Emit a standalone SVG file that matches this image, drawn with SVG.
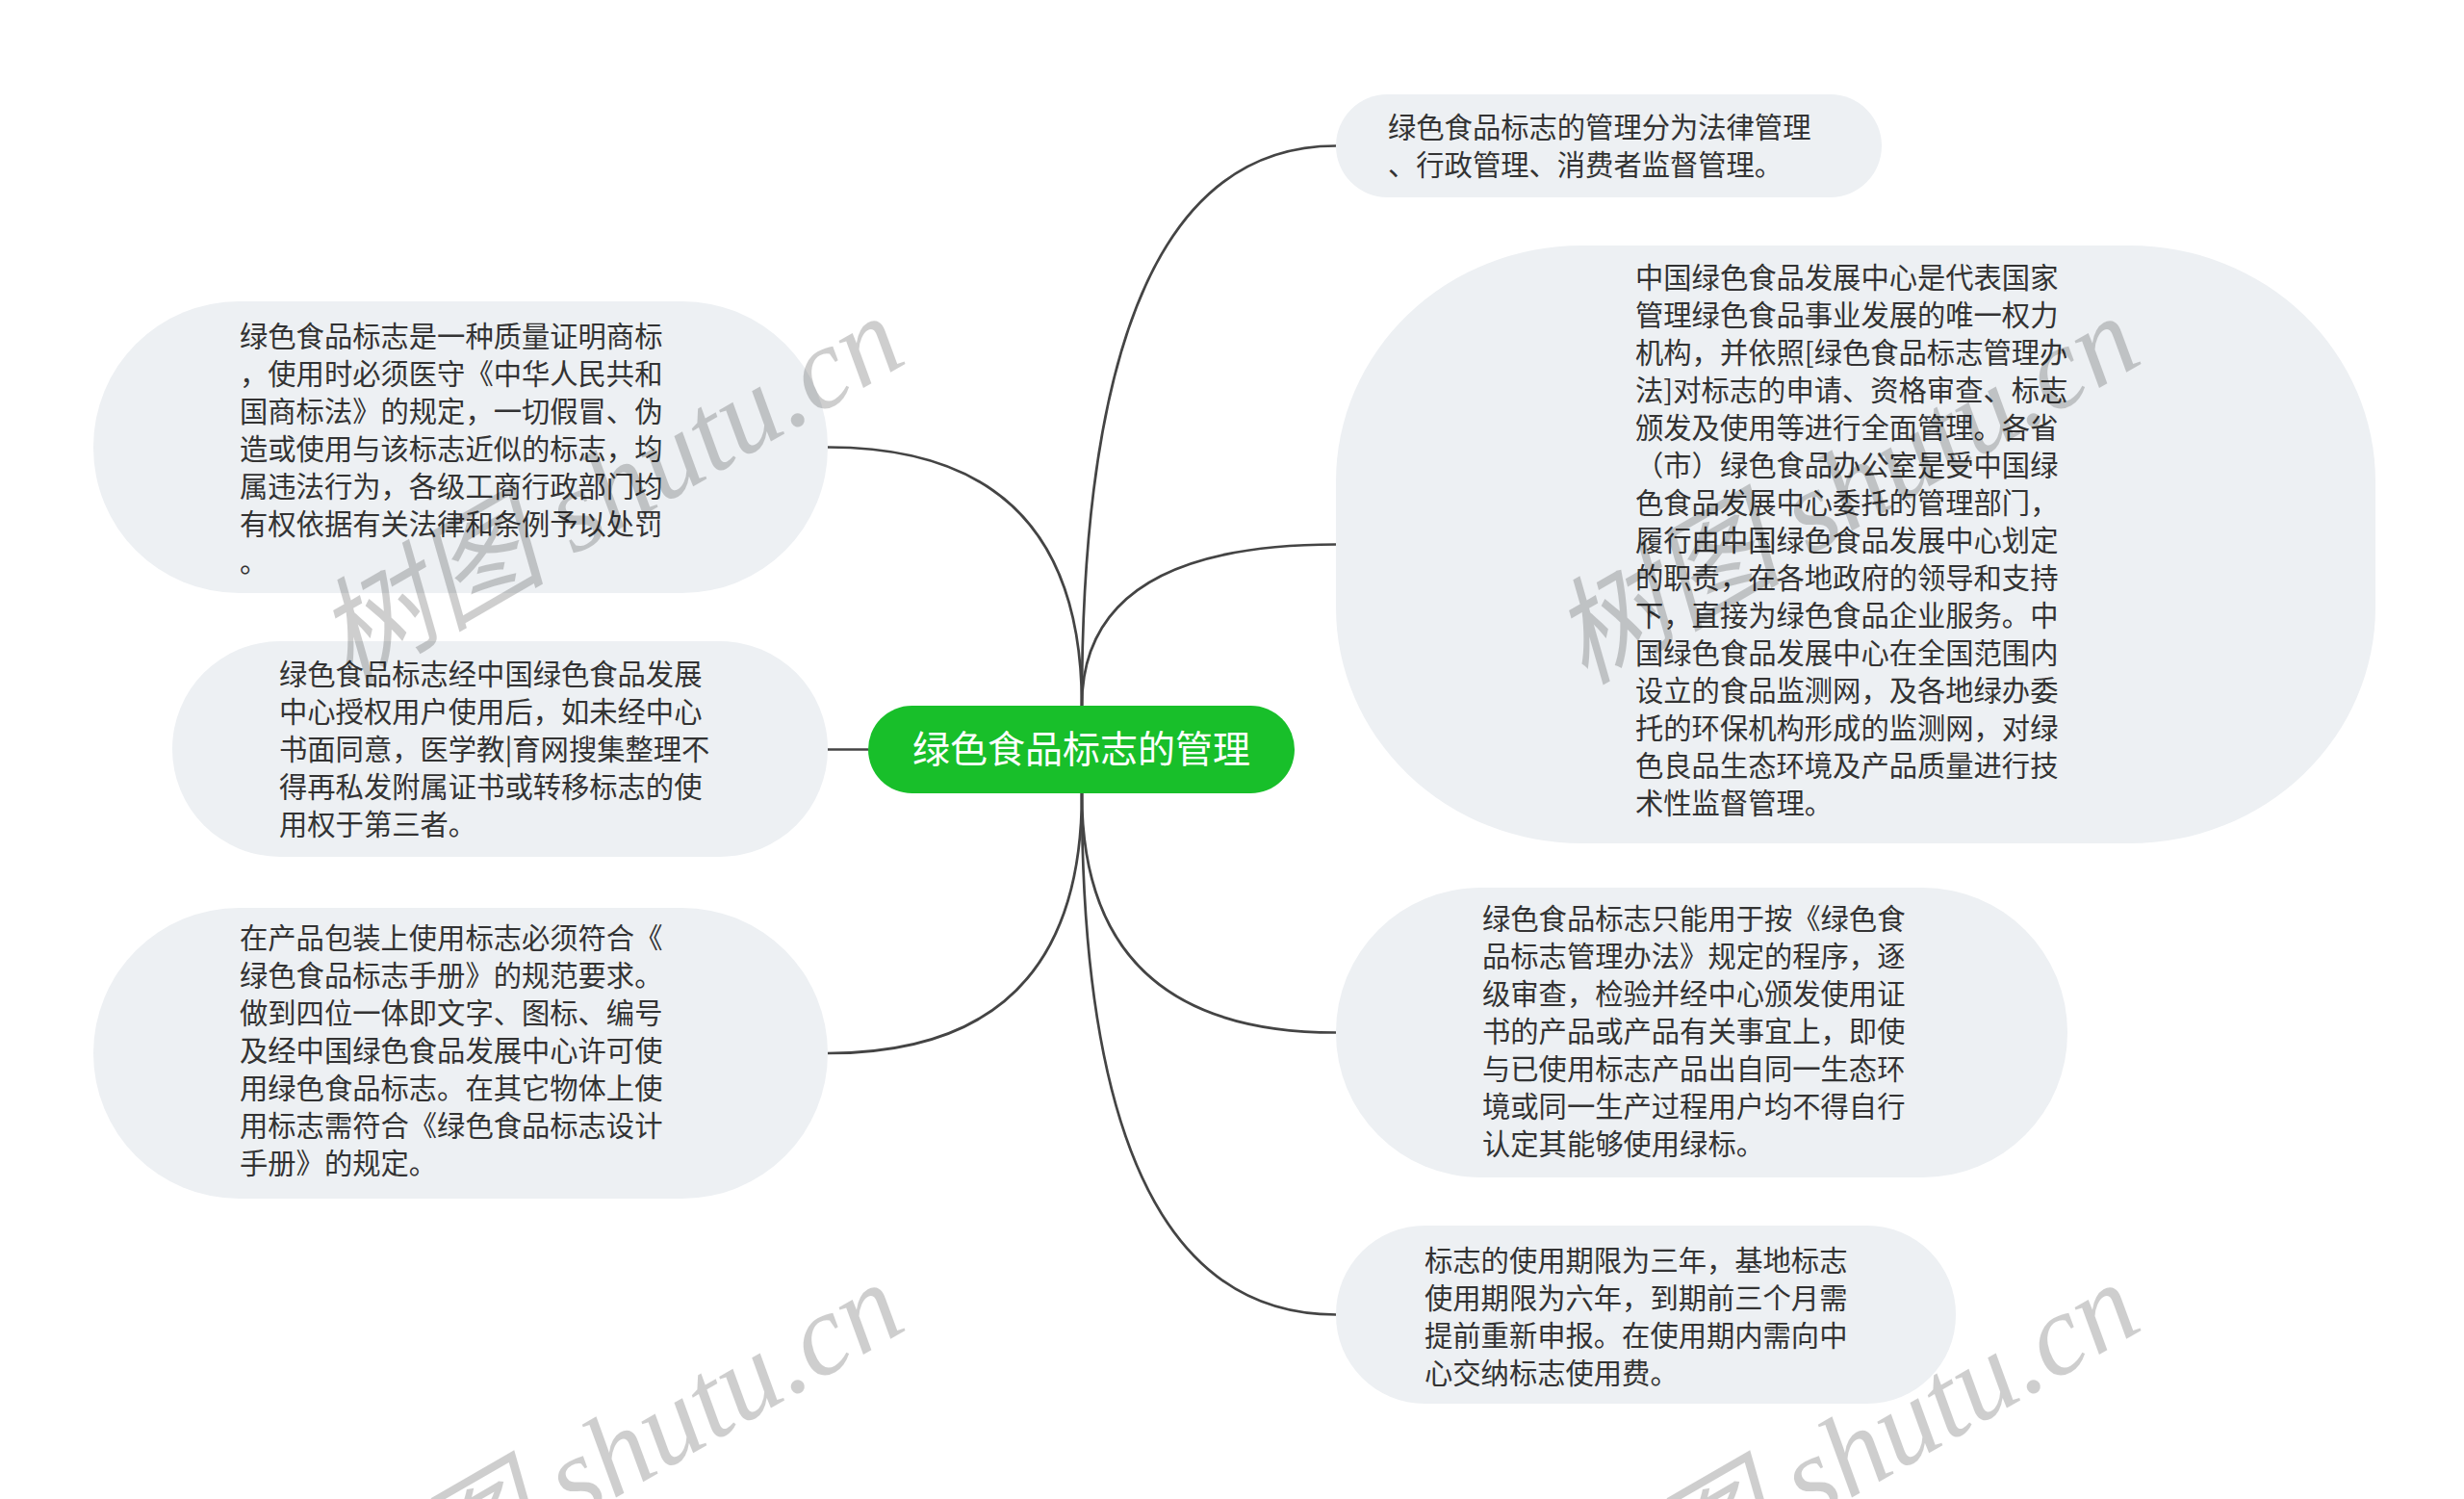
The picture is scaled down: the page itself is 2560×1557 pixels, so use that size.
<svg xmlns="http://www.w3.org/2000/svg" width="2560" height="1557" viewBox="0 0 2560 1557">
<style>
.box{fill:#edf0f3}
.t{font-family:"Noto Sans CJK SC","Noto Sans",sans-serif;font-size:29.3px;fill:#333}
.c{fill:none;stroke:#444;stroke-width:2.7}
.root{fill:#18bf2a}
.rt{font-family:"Noto Sans CJK SC","Noto Sans",sans-serif;font-size:39px;fill:#fff}
.wm{font-family:"Liberation Serif","Noto Sans CJK SC",serif;font-style:italic;font-size:120px;fill:#000;opacity:0.19}
</style>
<rect width="2560" height="1557" fill="#fff"/>
<g id="connectors">
<path class="c" d="M1124,733 Q1124,151.5 1388,151.5"/>
<path class="c" d="M1124,733 Q1124,565.5 1388,565.5"/>
<path class="c" d="M1124,733 Q1124,464.5 860,464.5"/>
<path class="c" d="M902,778.5 L860,778.5"/>
<path class="c" d="M1124,824 Q1124,1094 860,1094"/>
<path class="c" d="M1124,824 Q1124,1072.5 1388,1072.5"/>
<path class="c" d="M1124,824 Q1124,1365.5 1388,1365.5"/>
</g>
<g id="root">
<rect class="root" x="902" y="733" width="443" height="91" rx="45.5"/>
<text class="rt" x="1123.5" y="792" text-anchor="middle">绿色食品标志的管理</text>
</g>
<g id="node-r1">
<rect class="box" x="1388" y="98" width="567" height="107" rx="53.5"/>
<text class="t"><tspan x="1442" y="143">绿色食品标志的管理分为法律管理</tspan><tspan x="1442" y="182">、行政管理、消费者监督管理。</tspan></text>
</g>
<g id="node-r2">
<rect class="box" x="1388" y="255" width="1080" height="621" rx="255" ry="245"/>
<text class="t">
<tspan x="1699" y="299">中国绿色食品发展中心是代表国家</tspan>
<tspan x="1699" y="338">管理绿色食品事业发展的唯一权力</tspan>
<tspan x="1699" y="377">机构，并依照[绿色食品标志管理办</tspan>
<tspan x="1699" y="416">法]对标志的申请、资格审查、标志</tspan>
<tspan x="1699" y="455">颁发及使用等进行全面管理。各省</tspan>
<tspan x="1699" y="494">（市）绿色食品办公室是受中国绿</tspan>
<tspan x="1699" y="533">色食品发展中心委托的管理部门，</tspan>
<tspan x="1699" y="572">履行由中国绿色食品发展中心划定</tspan>
<tspan x="1699" y="611">的职责，在各地政府的领导和支持</tspan>
<tspan x="1699" y="650">下，直接为绿色食品企业服务。中</tspan>
<tspan x="1699" y="689">国绿色食品发展中心在全国范围内</tspan>
<tspan x="1699" y="728">设立的食品监测网，及各地绿办委</tspan>
<tspan x="1699" y="767">托的环保机构形成的监测网，对绿</tspan>
<tspan x="1699" y="806">色良品生态环境及产品质量进行技</tspan>
<tspan x="1699" y="845">术性监督管理。</tspan>
</text>
</g>
<g id="node-r3">
<rect class="box" x="1388" y="922" width="760" height="301" rx="150"/>
<text class="t">
<tspan x="1540" y="965">绿色食品标志只能用于按《绿色食</tspan>
<tspan x="1540" y="1004">品标志管理办法》规定的程序，逐</tspan>
<tspan x="1540" y="1043">级审查，检验并经中心颁发使用证</tspan>
<tspan x="1540" y="1082">书的产品或产品有关事宜上，即使</tspan>
<tspan x="1540" y="1121">与已使用标志产品出自同一生态环</tspan>
<tspan x="1540" y="1160">境或同一生产过程用户均不得自行</tspan>
<tspan x="1540" y="1199">认定其能够使用绿标。</tspan>
</text>
</g>
<g id="node-r4">
<rect class="box" x="1388" y="1273" width="644" height="185" rx="92"/>
<text class="t">
<tspan x="1480" y="1320">标志的使用期限为三年，基地标志</tspan>
<tspan x="1480" y="1359">使用期限为六年，到期前三个月需</tspan>
<tspan x="1480" y="1398">提前重新申报。在使用期内需向中</tspan>
<tspan x="1480" y="1437">心交纳标志使用费。</tspan>
</text>
</g>
<g id="node-l1">
<rect class="box" x="97" y="313" width="763" height="303" rx="151"/>
<text class="t">
<tspan x="249" y="360">绿色食品标志是一种质量证明商标</tspan>
<tspan x="249" y="399">，使用时必须医守《中华人民共和</tspan>
<tspan x="249" y="438">国商标法》的规定，一切假冒、伪</tspan>
<tspan x="249" y="477">造或使用与该标志近似的标志，均</tspan>
<tspan x="249" y="516">属违法行为，各级工商行政部门均</tspan>
<tspan x="249" y="555">有权依据有关法律和条例予以处罚</tspan>
<tspan x="249" y="594">。</tspan>
</text>
</g>
<g id="node-l2">
<rect class="box" x="179" y="666" width="681" height="224" rx="112"/>
<text class="t">
<tspan x="290" y="711">绿色食品标志经中国绿色食品发展</tspan>
<tspan x="290" y="750">中心授权用户使用后，如未经中心</tspan>
<tspan x="290" y="789">书面同意，医学教|育网搜集整理不</tspan>
<tspan x="290" y="828">得再私发附属证书或转移标志的使</tspan>
<tspan x="290" y="867">用权于第三者。</tspan>
</text>
</g>
<g id="node-l3">
<rect class="box" x="97" y="943" width="763" height="302" rx="151"/>
<text class="t">
<tspan x="249" y="985">在产品包装上使用标志必须符合《</tspan>
<tspan x="249" y="1024">绿色食品标志手册》的规范要求。</tspan>
<tspan x="249" y="1063">做到四位一体即文字、图标、编号</tspan>
<tspan x="249" y="1102">及经中国绿色食品发展中心许可使</tspan>
<tspan x="249" y="1141">用绿色食品标志。在其它物体上使</tspan>
<tspan x="249" y="1180">用标志需符合《绿色食品标志设计</tspan>
<tspan x="249" y="1219">手册》的规定。</tspan>
</text>
</g>
<g id="watermarks">
<text class="wm" transform="translate(362,712) rotate(-30)">树图 shutu.cn</text>
<text class="wm" transform="translate(1646,712) rotate(-30)">树图 shutu.cn</text>
<text class="wm" transform="translate(362,1716) rotate(-30)">树图 shutu.cn</text>
<text class="wm" transform="translate(1646,1716) rotate(-30)">树图 shutu.cn</text>
</g>
</svg>
